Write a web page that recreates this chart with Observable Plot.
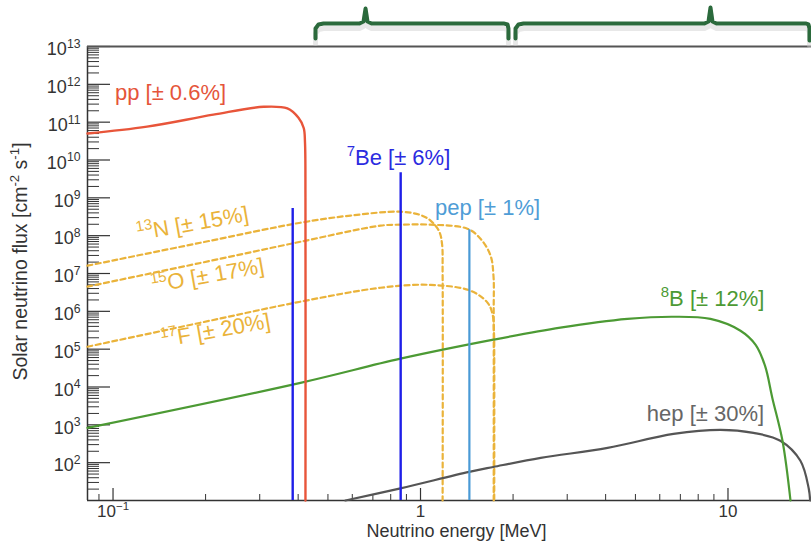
<!DOCTYPE html>
<html>
<head>
<meta charset="utf-8">
<script src="https://cdn.jsdelivr.net/npm/d3@7"></script>
<script src="https://cdn.jsdelivr.net/npm/@observablehq/plot@0.6"></script>
<style>
  html, body { margin: 0; padding: 0; background: #fff; }
  #chart { width: 811px; height: 544px; }
</style>
</head>
<body>
<div id="chart"></div>
<script>
// ---------- data (energy in MeV, flux in cm^-2 s^-1 [MeV^-1]) ----------
const ppCurve = [[0.0826,5.0e10],[0.129,7.6e10],[0.212,1.58e11],[0.309,2.55e11],[0.369,2.3e11],[0.401,1.3e11],[0.417,7e10],[0.421,3e10],[0.4225,1e9],[0.4225,10]];
const n13Curve = [[0.0826,1.61e7],[0.1925,6.5e7],[0.407,2.2e8],[0.592,3.4e8],[0.861,4.3e8],[1.0,3.5e8],[1.078,2.5e8],[1.15,1.3e8],[1.175,6e7],[1.18,1e7],[1.18,10]];
const o15Curve = [[0.0826,4.5e6],[0.1925,1.9e7],[0.407,6.9e7],[0.741,1.84e8],[0.861,1.95e8],[1.078,1.95e8],[1.42,1.53e8],[1.567,8.3e7],[1.689,3e7],[1.727,8.7e6],[1.73,1e6],[1.73,10]];
const f17Curve = [[0.0826,1.16e5],[0.1925,5e5],[0.407,1.8e6],[0.741,4.2e6],[1.078,5e6],[1.454,3.5e6],[1.651,1.7e6],[1.714,8.6e5],[1.735,2.3e5],[1.737,1e5],[1.737,10]];
const b8Curve = [[0.0826,830],[0.407,1.29e4],[0.861,5.6e4],[1.727,1.78e5],[2.85,3.7e5],[4.71,6.3e5],[6.65,7.2e5],[8.77,6.3e5],[10.98,3.07e5],[12.3,1.3e5],[13.2,3.6e4],[13.95,5e3],[15.04,378],[15.97,10]];
const hepCurve = [[0.570,10],[0.861,21],[1.44,57],[1.727,77],[2.46,134],[4.06,245],[6.65,575],[9.45,740],[12.1,615],[14.8,380],[17.2,112],[18.3,21],[18.5,10]];

// mono-energetic lines
const be7Energy = [0.384, 0.862];
const be7Flux = [5.2e8, 4.6e9];
const pepEnergy = [1.442];
const pepFlux = [1.44e8];

// labels
const labelText = ["pp [± 0.6%]", "^7^Be [± 6%]", "pep [± 1%]", "^8^B [± 12%]", "hep [± 30%]"];
const labelE = [0.1538, 0.848, 1.652, 8.91, 8.45];
const labelF = [6.0e11, 1.15e10, 5.5e8, 2.15e6, 1.95e3];
const labelColor = ["#e5553a", "#2b2be0", "#4f9dd6", "#4c9a34", "#666666"];
const cnoText = ["^13^N [± 15%]", "^15^O [± 17%]", "^17^F [± 20%]"];
const cnoE = [0.1814, 0.2029, 0.2155];
const cnoF = [2.07e8, 8.7e6, 3.1e5];

// axes
const xTickValues = [0.1, 1, 10];
const xTickLabels = ["10^−1^", "1", "10"];
const xMinorValues = [0.09, 0.2, 0.3, 0.4, 0.5, 0.6, 0.7, 0.8, 0.9, 2, 3, 4, 5, 6, 7, 8, 9];
const yTickValues = [1e2,1e3,1e4,1e5,1e6,1e7,1e8,1e9,1e10,1e11,1e12,1e13];
const yTickLabels = ["10^2^","10^3^","10^4^","10^5^","10^6^","10^7^","10^8^","10^9^","10^10^","10^11^","10^12^","10^13^"];
const yMinorValues = [];
for (let k = 1; k <= 12; k++) for (let m = 2; m <= 9; m++) yMinorValues.push(m * Math.pow(10, k));
const xTitle = "Neutrino energy [MeV]";
const yTitle = "Solar neutrino flux [cm^-2^ s^-1^]";

// energy-range braces above the frame
const brace1 = [[0.4555,1.63e13],[0.4555,2.99e13],[0.4659,3.82e13],[0.4837,4.07e13],[0.6333,4.07e13],[0.6526,4.58e13],[0.6626,1.01e14],[0.6725,4.58e13],[0.693,4.07e13],[1.862,4.07e13],[1.919,3.82e13],[1.932,2.99e13],[1.932,1.63e13]];
const brace2 = [[2.037,1.63e13],[2.037,2.99e13],[2.083,3.82e13],[2.163,4.07e13],[8.387,4.07e13],[8.642,4.58e13],[8.772,1.07e14],[8.904,4.58e13],[9.175,4.07e13],[17.87,4.07e13],[18.27,3.82e13],[18.41,2.99e13],[18.41,1.44e13]];

const xDomain = [0.0826, 18.69];
const yDomain = [10, 1e13];

const font = "'Liberation Sans', Arial, Helvetica, sans-serif";
const E = d => d[0], F = d => d[1];
const cnoColor = "#eab33a";
const dash = "5,3.5";
const plotW = 811 - 87, plotH = 544 - 46 - 44;

const plot = Plot.plot({
  width: 811, height: 544,
  marginLeft: 87, marginRight: 0, marginTop: 46, marginBottom: 44,
  x: {type: "log", domain: xDomain, axis: null},
  y: {type: "log", domain: yDomain, axis: null},
  style: {fontFamily: font, background: "white", overflow: "visible"},
  marks: [
    // ticks (inward)
    Plot.tickY(yTickValues, {y: d => d, insetRight: plotW - 23, stroke: "#333", strokeWidth: 1.2}),
    Plot.tickY(yMinorValues, {y: d => d, insetRight: plotW - 12, stroke: "#333", strokeWidth: 1}),
    Plot.tickX(xTickValues, {x: d => d, insetTop: plotH - 12, stroke: "#333", strokeWidth: 1.2}),
    Plot.tickX(xMinorValues, {x: d => d, insetTop: plotH - 6, stroke: "#333", strokeWidth: 1}),
    // frame
    Plot.ruleX([xDomain[0]], {stroke: "#333", strokeWidth: 1.5}),
    Plot.ruleY([yDomain[0]], {stroke: "#333", strokeWidth: 1.5}),
    Plot.ruleY([yDomain[1]], {stroke: "#555", strokeWidth: 2}),
    // CNO dashed spectra
    Plot.line(n13Curve, {x: E, y: F, stroke: cnoColor, strokeWidth: 2.2, strokeDasharray: dash, curve: "catmull-rom"}),
    Plot.line(o15Curve, {x: E, y: F, stroke: cnoColor, strokeWidth: 2.2, strokeDasharray: dash, curve: "catmull-rom"}),
    Plot.line(f17Curve, {x: E, y: F, stroke: cnoColor, strokeWidth: 2.2, strokeDasharray: dash, curve: "catmull-rom"}),
    // continuous spectra
    Plot.line(hepCurve, {x: E, y: F, stroke: "#555", strokeWidth: 2.2, curve: "catmull-rom"}),
    Plot.line(b8Curve, {x: E, y: F, stroke: "#4c9a34", strokeWidth: 2.2, curve: "catmull-rom"}),
    Plot.line(ppCurve, {x: E, y: F, stroke: "#e8553a", strokeWidth: 2.4, curve: "catmull-rom"}),
    // lines
    Plot.ruleX(be7Energy, {x: d => d, y1: yDomain[0], y2: (d, i) => be7Flux[i], stroke: "#1f1fe8", strokeWidth: 2.4}),
    Plot.ruleX(pepEnergy, {x: d => d, y1: yDomain[0], y2: (d, i) => pepFlux[i], stroke: "#4a9ad6", strokeWidth: 2.2}),
    // labels
    Plot.text(labelText, {x: (d, i) => labelE[i], y: (d, i) => labelF[i], text: d => d, fill: (d, i) => labelColor[i], fontSize: 22}),
    Plot.text(cnoText, {x: (d, i) => cnoE[i], y: (d, i) => cnoF[i], text: d => d, fill: cnoColor, fontSize: 22, rotate: -10}),
    // tick labels
    Plot.text(yTickValues, {y: d => d, frameAnchor: "left", dx: -7, dy: 3, textAnchor: "end", text: (d, i) => yTickLabels[i], fontSize: 18, fill: "#333"}),
    Plot.text(xTickValues, {x: d => d, frameAnchor: "bottom", dy: 16, text: (d, i) => xTickLabels[i], fontSize: 17, fill: "#333"}),
    // axis titles
    Plot.text([xTitle], {frameAnchor: "bottom", dx: 7, dy: 36, textAnchor: "middle", text: d => d, fontSize: 18, fill: "#333"}),
    Plot.text([yTitle], {frameAnchor: "left", dx: -67, dy: -12, rotate: -90, textAnchor: "middle", text: d => d, fontSize: 19.5, fill: "#333"}),
    // braces
    Plot.line(brace1, {x: E, y: F, stroke: "#ccc", strokeOpacity: 0.45, strokeWidth: 5, dy: 5}),
    Plot.line(brace2, {x: E, y: F, stroke: "#ccc", strokeOpacity: 0.45, strokeWidth: 5, dy: 5}),
    Plot.line(brace1, {x: E, y: F, stroke: "#2b6a3c", strokeWidth: 4, strokeLinejoin: "round", strokeLinecap: "round"}),
    Plot.line(brace2, {x: E, y: F, stroke: "#2b6a3c", strokeWidth: 4, strokeLinejoin: "round", strokeLinecap: "round"})
  ]
});

document.getElementById("chart").appendChild(plot);

// superscripts: "^...^" segments become raised tspans
const NS = "http://www.w3.org/2000/svg";
plot.querySelectorAll("text").forEach(t => {
  const s = t.textContent;
  if (!s.includes("^")) return;
  const parts = s.split("^");
  while (t.firstChild) t.removeChild(t.firstChild);
  parts.forEach((p, i) => {
    if (!p) return;
    const ts = document.createElementNS(NS, "tspan");
    ts.textContent = p;
    if (i % 2 === 1) {
      ts.setAttribute("font-size", "68%");
      ts.setAttribute("dy", "-0.6em");
    } else if (i > 0) {
      ts.setAttribute("dy", "0.408em");
    }
    t.appendChild(ts);
  });
});
</script>
</body>
</html>
